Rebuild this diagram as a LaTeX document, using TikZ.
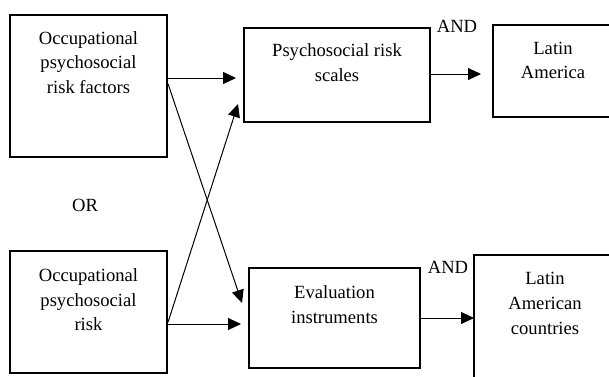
\documentclass[tikz,border=0pt]{standalone}
\usepackage{fontspec}
\setmainfont{Liberation Serif}
\usetikzlibrary{arrows.meta,calc}
\begin{document}
\begin{tikzpicture}[x=1pt,y=-1pt,
  box/.style={draw,line width=2.2pt,inner sep=0pt},
  txt/.style={align=center,font=\fontsize{18.6}{24.6}\selectfont,inner sep=0pt},
  arr/.style={line width=1pt,-{Triangle[length=13pt,width=12pt]}}]
\useasboundingbox (0,0) rectangle (609,376);
\clip (0,0) rectangle (609,376);
% boxes
\node[box,minimum width=157pt,minimum height=142pt] (A) at (88.5,86) {};
\node[box,minimum width=186pt,minimum height=94pt] (B) at (337,75) {};
\node[box,minimum width=120pt,minimum height=92pt] (C) at (553,71) {};
\node[box,minimum width=157pt,minimum height=122pt] (D) at (88.5,312) {};
\node[box,minimum width=171pt,minimum height=100pt] (E) at (334.5,318) {};
\node[box,minimum width=142pt,minimum height=145pt] (F) at (545,327.5) {};
% texts
\node[txt] (tA) at (88.5,62.5) {Occupational\\psychosocial\\risk factors};
\node[txt] (tB) at (337,62.5) {Psychosocial risk\\scales};
\node[txt] (tC) at (553,60.5) {Latin\\America};
\node[txt] (tD) at (88.5,300) {Occupational\\psychosocial\\risk};
\node[txt] (tE) at (334.5,304.5) {Evaluation\\instruments};
\node[txt] (tF) at (545,303.5) {Latin\\American\\countries};
\node[txt] (and1) at (457,26) {AND};
\node[txt] (and2) at (448,267) {AND};
\node[txt] (or) at (85,205) {OR};
% connectors
\coordinate (ab) at (236,78);
\coordinate (bc) at (481,74);
\coordinate (ae) at (242,303);
\coordinate (db) at (238,104);
\coordinate (de) at (241,324);
\coordinate (ef) at (474,318);
\draw[arr] (A.east |- ab) -- (ab);
\draw[arr] (B.east |- bc) -- (bc);
\draw[arr] (A.east |- 0,84) -- (ae);
\draw[arr] (D.east |- 0,322) -- (db);
\draw[arr] (D.east |- de) -- (de);
\draw[arr] (E.east |- ef) -- (ef);
\end{tikzpicture}
\end{document}
